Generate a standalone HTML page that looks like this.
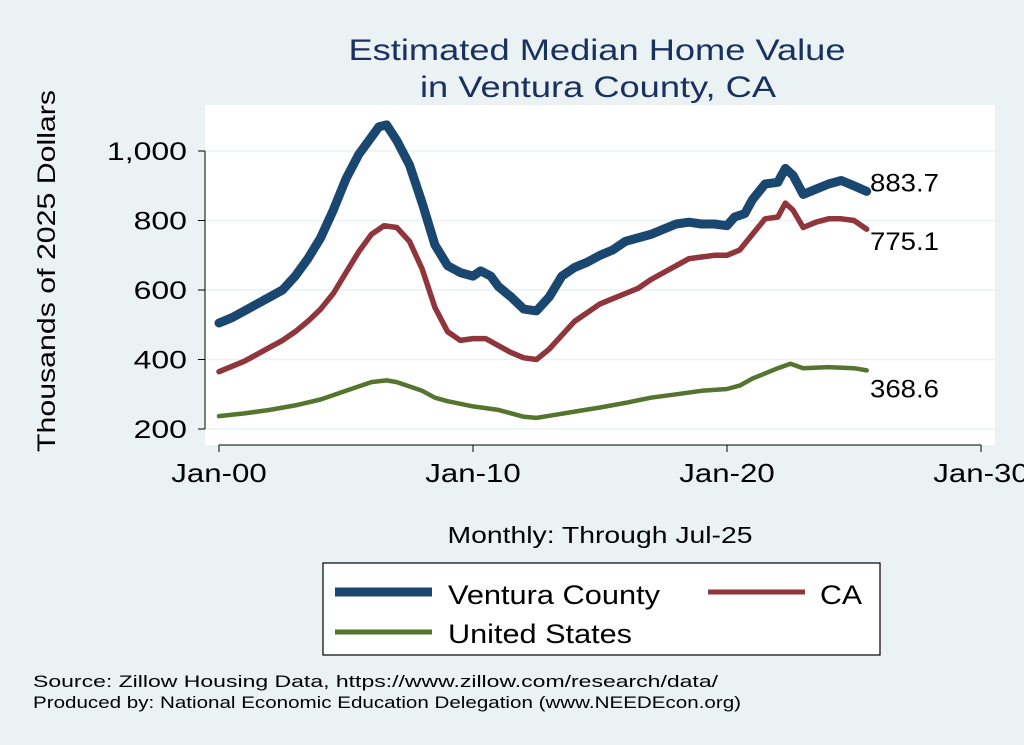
<!DOCTYPE html>
<html><head><meta charset="utf-8"><style>
body{margin:0;background:#eaf2f3;}
svg{display:block;font-family:"Liberation Sans",Arial,sans-serif;}
</style></head><body>
<svg id="c" width="1024" height="745">
<rect x="0" y="0" width="1024" height="745" fill="#eaf2f3"/>
<text x="597" y="60" font-size="30" fill="#1a3160" text-anchor="middle" textLength="497" lengthAdjust="spacingAndGlyphs">Estimated Median Home Value</text>
<text x="598" y="97" font-size="30" fill="#1a3160" text-anchor="middle" textLength="356" lengthAdjust="spacingAndGlyphs">in Ventura County, CA</text>
<rect x="205" y="105" width="790" height="340" fill="#ffffff"/>
<g id="grid"></g>
<g id="yax"></g>
<g id="xax"></g>
<g id="series"></g>
<text transform="translate(55,271) rotate(-90)" font-size="25" text-anchor="middle" textLength="362" lengthAdjust="spacingAndGlyphs" fill="#000">Thousands of 2025 Dollars</text>
<text x="600" y="543" font-size="23" text-anchor="middle" textLength="305" lengthAdjust="spacingAndGlyphs" fill="#000">Monthly: Through Jul-25</text>
<g>
<rect x="323" y="563" width="557" height="92" fill="#fff" stroke="#000" stroke-width="1.2"/>
<line x1="335" y1="592" x2="432" y2="592" stroke="#1a476f" stroke-width="9"/>
<text x="448" y="604" font-size="27" textLength="212" lengthAdjust="spacingAndGlyphs">Ventura County</text>
<line x1="708" y1="592" x2="805" y2="592" stroke="#90353b" stroke-width="5"/>
<text x="820" y="604" font-size="27" textLength="42" lengthAdjust="spacingAndGlyphs">CA</text>
<line x1="335" y1="632" x2="432" y2="632" stroke="#55752f" stroke-width="5"/>
<text x="448" y="643" font-size="27" textLength="184" lengthAdjust="spacingAndGlyphs">United States</text>
</g>
<text x="33" y="687" font-size="17" textLength="685" lengthAdjust="spacingAndGlyphs">Source: Zillow Housing Data, https://www.zillow.com/research/data/</text>
<text x="33" y="708" font-size="17" textLength="708" lengthAdjust="spacingAndGlyphs">Produced by: National Economic Education Delegation (www.NEEDEcon.org)</text>
</svg>
<script>
const yTicks=[200,400,600,800,1000];
const yTickLabels=["200","400","600","800","1,000"];
const xTicks=[2000,2010,2020,2030];
const xTickLabels=["Jan-00","Jan-10","Jan-20","Jan-30"];
const venturaT=[2000,2000.5,2001,2001.5,2002,2002.5,2003,2003.5,2004,2004.5,2005,2005.5,2006,2006.3,2006.6,2007,2007.5,2008,2008.5,2009,2009.5,2010,2010.3,2010.7,2011,2011.5,2012,2012.5,2013,2013.5,2014,2014.5,2015,2015.5,2016,2016.5,2017,2017.5,2018,2018.5,2019,2019.5,2020,2020.3,2020.7,2021,2021.5,2022,2022.3,2022.6,2023,2023.5,2024,2024.5,2025,2025.5];
const venturaV=[505,520,540,560,580,600,640,690,750,830,920,990,1040,1070,1075,1030,960,850,730,670,650,640,655,640,610,580,545,540,580,640,665,680,700,715,740,750,760,775,790,795,790,790,785,810,820,860,905,910,950,930,875,890,905,915,900,883.7];
const caT=[2000,2000.5,2001,2001.5,2002,2002.5,2003,2003.5,2004,2004.5,2005,2005.5,2006,2006.5,2007,2007.5,2008,2008.5,2009,2009.5,2010,2010.5,2011,2011.5,2012,2012.5,2013,2013.5,2014,2014.5,2015,2015.5,2016,2016.5,2017,2017.5,2018,2018.5,2019,2019.5,2020,2020.5,2021,2021.5,2022,2022.3,2022.6,2023,2023.5,2024,2024.5,2025,2025.5];
const caV=[365,380,395,415,435,455,480,510,545,590,650,710,760,785,780,740,660,550,480,455,460,460,440,420,405,400,430,470,510,535,560,575,590,605,630,650,670,690,695,700,700,715,760,805,810,850,830,780,795,805,805,800,775.1];
const usT=[2000,2001,2002,2003,2004,2005,2006,2006.6,2007,2008,2008.5,2009,2010,2011,2012,2012.5,2013,2014,2015,2016,2017,2018,2019,2020,2020.5,2021,2022,2022.5,2023,2024,2025,2025.5];
const usV=[237,245,255,268,285,310,335,340,335,310,290,280,265,255,235,232,238,250,262,275,290,300,310,315,325,345,375,388,375,378,375,368.6];
const endLabels=["883.7","775.1","368.6"];
const NS="http://www.w3.org/2000/svg";
const X=t=>219+(t-2000)*25.4;
const Y=v=>429-(v-200)*0.3475;
function mk(tag,attrs,parent){const e=document.createElementNS(NS,tag);for(const k in attrs)e.setAttribute(k,attrs[k]);document.getElementById(parent).appendChild(e);return e;}
function widen(el,f){const w=el.getComputedTextLength();el.setAttribute('textLength',(w*f).toFixed(1));el.setAttribute('lengthAdjust','spacingAndGlyphs');}
yTicks.forEach((v,i)=>{
 const g=mk('line',{x1:205,x2:995,y1:Y(v),y2:Y(v),stroke:'#eaf2f3','stroke-width':1.5},'grid');
 
 
 const t=mk('line',{x1:198,x2:205,y1:Y(v),y2:Y(v),stroke:'#000'},'yax');
 
 
 const l=mk('text',{x:187,y:Y(v)+9,'font-size':25,'text-anchor':'end'},'yax');l.textContent=yTickLabels[i];
 
 
 widen(l,1.28);
});
mk('line',{x1:205,x2:205,y1:Y(yTicks[0]),y2:Y(yTicks[yTicks.length-1]),stroke:'#000'},'yax');
xTicks.forEach((v,i)=>{
 const t=mk('line',{x1:X(v),x2:X(v),y1:445,y2:452,stroke:'#000'},'xax');
 
 
 const l=mk('text',{x:X(v),y:482,'font-size':26,'text-anchor':'middle'},'xax');l.textContent=xTickLabels[i];
 
 
 widen(l,1.2);
});
mk('line',{x1:X(xTicks[0]),x2:X(xTicks[xTicks.length-1]),y1:445,y2:445,stroke:'#000'},'xax');
function line(T,V,col,w,name){
 const d=T.map((t,i)=>(i?'L':'M')+X(t).toFixed(1)+','+Y(V[i]).toFixed(1)).join('');
 const p=mk('path',{d:d,fill:'none',stroke:col,'stroke-width':w,'stroke-linejoin':'round','stroke-linecap':'round'},'series');
 
 
}
line(usT,usV,'#55752f',4.5,'line-united-states');
line(caT,caV,'#90353b',5.5,'line-ca');
line(venturaT,venturaV,'#1a476f',9,'line-ventura-county');
const lastY=[Y(venturaV[venturaV.length-1])+0,Y(caV[caV.length-1])+21,Y(usV[usV.length-1])+27];
endLabels.forEach((s,i)=>{
 const l=mk('text',{x:870,y:lastY[i],'font-size':25},'series');l.textContent=s;
 
 
 l.setAttribute('textLength','69');
 l.setAttribute('lengthAdjust','spacingAndGlyphs');
});
</script>
</body></html>
